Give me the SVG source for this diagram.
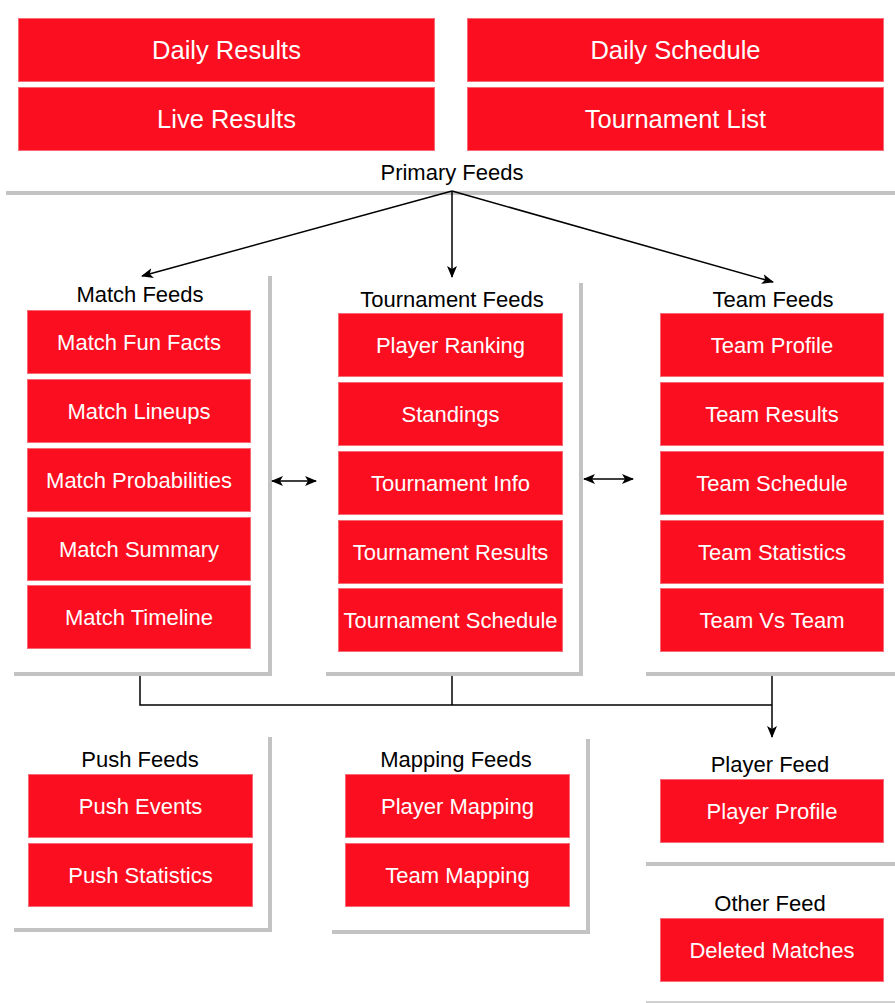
<svg xmlns="http://www.w3.org/2000/svg" width="895" height="1003" viewBox="0 0 895 1003">
<defs>
<style>
.b{fill:#FA0E1F;stroke:#F66A74;stroke-width:1}
.bt{font-family:"Liberation Sans",Arial,Helvetica,sans-serif;font-size:22px;fill:#fff;text-anchor:middle}
.big{font-size:25.5px}
.lbl{font-family:"Liberation Sans",Arial,Helvetica,sans-serif;font-size:22px;fill:#000;text-anchor:middle}
.g{stroke:#C3C3C3;stroke-width:4;fill:none}
.c{stroke:#000;stroke-width:1.5;fill:none}
</style>
<marker id="ah" viewBox="0 0 12 10" refX="11" refY="5" markerWidth="12" markerHeight="10" markerUnits="userSpaceOnUse" orient="auto-start-reverse">
<path d="M0,0 L12,5 L0,10 L3,5 Z" fill="#000"/>
</marker>
</defs>
<rect width="895" height="1003" fill="#fff"/>

<g id="frames">
<line class="g" x1="6" y1="193" x2="895" y2="193"/>
<path class="g" d="M270,276 V674 H14"/>
<path class="g" d="M581,283 V674 H326"/>
<line class="g" x1="646" y1="674" x2="895" y2="674"/>
<path class="g" d="M270,737 V930 H14"/>
<path class="g" d="M588,739 V932 H332"/>
<line class="g" x1="646" y1="864" x2="895" y2="864"/>
<line stroke="#D0D0D0" stroke-width="2" x1="646" y1="1002" x2="895" y2="1002"/>
</g>

<g id="primary">
<g id="daily-results"><rect class="b" x="18.5" y="18.5" width="416" height="63"/><text class="bt big" x="226.5" y="59">Daily Results</text></g>
<g id="live-results"><rect class="b" x="18.5" y="87.5" width="416" height="63"/><text class="bt big" x="226.5" y="128">Live Results</text></g>
<g id="daily-schedule"><rect class="b" x="467.5" y="18.5" width="416" height="63"/><text class="bt big" x="675.5" y="59">Daily Schedule</text></g>
<g id="tournament-list"><rect class="b" x="467.5" y="87.5" width="416" height="63"/><text class="bt big" x="675.5" y="128">Tournament List</text></g>
<text class="lbl" x="452" y="180">Primary Feeds</text>
</g>

<g id="match-feeds">
<text class="lbl" x="140" y="302">Match Feeds</text>
<g id="match-fun-facts"><rect class="b" x="27.5" y="310.5" width="223" height="63"/><text class="bt" x="139" y="350">Match Fun Facts</text></g>
<g id="match-lineups"><rect class="b" x="27.5" y="379.5" width="223" height="63"/><text class="bt" x="139" y="419">Match Lineups</text></g>
<g id="match-probabilities"><rect class="b" x="27.5" y="448.5" width="223" height="63"/><text class="bt" x="139" y="488">Match Probabilities</text></g>
<g id="match-summary"><rect class="b" x="27.5" y="517.5" width="223" height="63"/><text class="bt" x="139" y="557">Match Summary</text></g>
<g id="match-timeline"><rect class="b" x="27.5" y="585.5" width="223" height="63"/><text class="bt" x="139" y="625">Match Timeline</text></g>
</g>

<g id="tournament-feeds">
<text class="lbl" x="452" y="307">Tournament Feeds</text>
<g id="player-ranking"><rect class="b" x="338.5" y="313.5" width="224" height="63"/><text class="bt" x="450.5" y="353">Player Ranking</text></g>
<g id="standings"><rect class="b" x="338.5" y="382.5" width="224" height="63"/><text class="bt" x="450.5" y="422">Standings</text></g>
<g id="tournament-info"><rect class="b" x="338.5" y="451.5" width="224" height="63"/><text class="bt" x="450.5" y="491">Tournament Info</text></g>
<g id="tournament-results"><rect class="b" x="338.5" y="520.5" width="224" height="63"/><text class="bt" x="450.5" y="560">Tournament Results</text></g>
<g id="tournament-schedule"><rect class="b" x="338.5" y="588.5" width="224" height="63"/><text class="bt" x="450.5" y="628">Tournament Schedule</text></g>
</g>

<g id="team-feeds">
<text class="lbl" x="773" y="307">Team Feeds</text>
<g id="team-profile"><rect class="b" x="660.5" y="313.5" width="223" height="63"/><text class="bt" x="772" y="353">Team Profile</text></g>
<g id="team-results"><rect class="b" x="660.5" y="382.5" width="223" height="63"/><text class="bt" x="772" y="422">Team Results</text></g>
<g id="team-schedule"><rect class="b" x="660.5" y="451.5" width="223" height="63"/><text class="bt" x="772" y="491">Team Schedule</text></g>
<g id="team-statistics"><rect class="b" x="660.5" y="520.5" width="223" height="63"/><text class="bt" x="772" y="560">Team Statistics</text></g>
<g id="team-vs-team"><rect class="b" x="660.5" y="588.5" width="223" height="63"/><text class="bt" x="772" y="628">Team Vs Team</text></g>
</g>

<g id="push-feeds">
<text class="lbl" x="140" y="767">Push Feeds</text>
<g id="push-events"><rect class="b" x="28.5" y="774.5" width="224" height="63"/><text class="bt" x="140.5" y="814">Push Events</text></g>
<g id="push-statistics"><rect class="b" x="28.5" y="843.5" width="224" height="63"/><text class="bt" x="140.5" y="883">Push Statistics</text></g>
</g>

<g id="mapping-feeds">
<text class="lbl" x="456" y="767">Mapping Feeds</text>
<g id="player-mapping"><rect class="b" x="345.5" y="774.5" width="224" height="63"/><text class="bt" x="457.5" y="814">Player Mapping</text></g>
<g id="team-mapping"><rect class="b" x="345.5" y="843.5" width="224" height="63"/><text class="bt" x="457.5" y="883">Team Mapping</text></g>
</g>

<g id="player-feed">
<text class="lbl" x="770" y="772">Player Feed</text>
<g id="player-profile"><rect class="b" x="660.5" y="779.5" width="223" height="63"/><text class="bt" x="772" y="819">Player Profile</text></g>
</g>

<g id="other-feed">
<text class="lbl" x="770" y="911">Other Feed</text>
<g id="deleted-matches"><rect class="b" x="660.5" y="918.5" width="223" height="63"/><text class="bt" x="772" y="958">Deleted Matches</text></g>
</g>

<g id="connectors">
<line class="c" x1="452" y1="191" x2="142" y2="276" marker-end="url(#ah)"/>
<line class="c" x1="452" y1="191" x2="452" y2="277" marker-end="url(#ah)"/>
<line class="c" x1="452" y1="191" x2="773" y2="282" marker-end="url(#ah)"/>
<line class="c" x1="272" y1="481" x2="316" y2="481" marker-start="url(#ah)" marker-end="url(#ah)"/>
<line class="c" x1="584" y1="479" x2="633" y2="479" marker-start="url(#ah)" marker-end="url(#ah)"/>
<path class="c" d="M140,676 V705 H772"/>
<line class="c" x1="452" y1="676" x2="452" y2="705"/>
<line class="c" x1="772" y1="676" x2="772" y2="737" marker-end="url(#ah)"/>
</g>
</svg>
